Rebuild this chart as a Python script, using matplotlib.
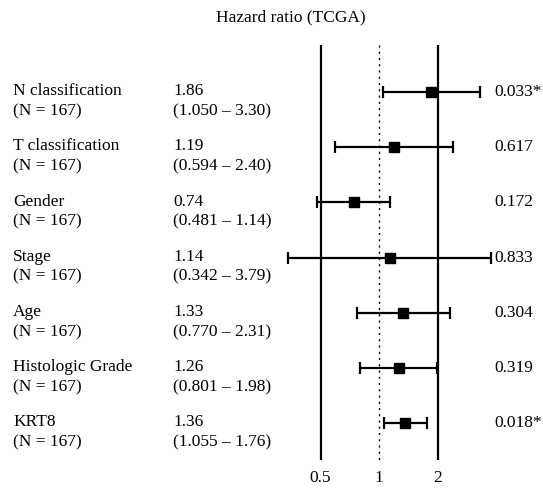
import matplotlib
matplotlib.use("Agg")
import matplotlib.pyplot as plt
import numpy as np

plt.rcParams['font.family'] = ['Liberation Serif', 'DejaVu Serif']

names = ["N classification", "T classification", "Gender", "Stage", "Age",
         "Histologic Grade", "KRT8"]
counts = [167, 167, 167, 167, 167, 167, 167]
hr = [1.86, 1.19, 0.74, 1.14, 1.33, 1.26, 1.36]
low = [1.050, 0.594, 0.481, 0.342, 0.770, 0.801, 1.055]
high = [3.30, 2.40, 1.14, 3.79, 2.31, 1.98, 1.76]
ci_labels = ["(1.050 \u2013 3.30)", "(0.594 \u2013 2.40)", "(0.481 \u2013 1.14)",
             "(0.342 \u2013 3.79)", "(0.770 \u2013 2.31)", "(0.801 \u2013 1.98)",
             "(1.055 \u2013 1.76)"]
pvals = ["0.033*", "0.617", "0.172", "0.833", "0.304", "0.319", "0.018*"]
ticks = [0.5, 1, 2]

fig = plt.figure(figsize=(5.43, 4.88), dpi=100)
ax = fig.add_axes([0, 0, 1, 1])
ax.set_xscale('log', base=2)

# pixel mapping: 1 at x=379, one doubling = 58.5 px
ppx = 58.5
ax.set_xlim(2 ** (-379 / ppx), 2 ** ((543 - 379) / ppx))
row_px = 55.17
ax.set_ylim((488 - 92) / row_px, -92 / row_px)
ax.axis('off')

y = np.arange(len(names))
top = (45 - 92) / row_px
bot = (460 - 92) / row_px

for t in [0.5, 2]:
    ax.plot([t, t], [top, bot], color='black', lw=1.6, solid_capstyle='butt')
ax.plot([1, 1], [top, bot], color='black', lw=1.0, linestyle=(0, (1.5, 3)))

hr_a = np.array(hr)
err = [hr_a - np.array(low), np.array(high) - hr_a]
ax.errorbar(hr, y, xerr=err, fmt='s', color='black', ms=7, lw=1.6,
            capsize=4, capthick=1.6, elinewidth=1.6)

tr = ax.get_yaxis_transform()
fs = 12.5
for i in range(len(names)):
    ax.text(0.024, y[i] + 0.06, names[i], transform=tr, fontsize=fs,
            ha='left', va='baseline')
    ax.text(0.024, y[i] + 0.35, "(N = %d)" % counts[i], transform=tr,
            fontsize=fs, ha='left', va='center')
    ax.text(0.319, y[i] + 0.06, "%.2f" % hr[i], transform=tr, fontsize=fs,
            ha='left', va='baseline')
    ax.text(0.319, y[i] + 0.35, ci_labels[i], transform=tr, fontsize=fs,
            ha='left', va='center')
    ax.text(0.91, y[i], pvals[i], transform=tr, fontsize=fs,
            ha='left', va='center')

for t in ticks:
    ax.text(t, (478 - 92) / row_px, "%g" % t, fontsize=fs, ha='center',
            va='center')

ax.text(0.536, -1.36, "Hazard ratio (TCGA)", transform=tr, fontsize=fs,
        ha='center', va='center')

fig.savefig("out.png", dpi=100)
